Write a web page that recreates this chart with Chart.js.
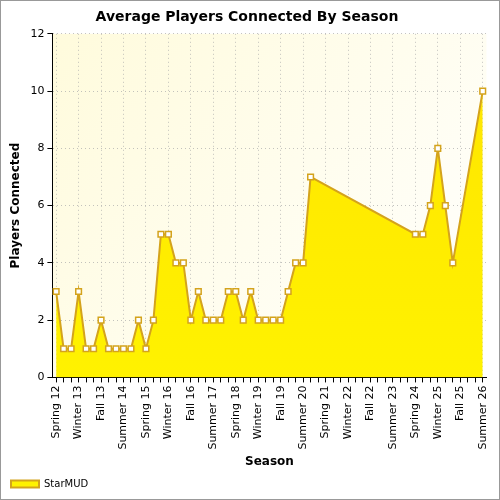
<!DOCTYPE html>
<html><head><meta charset="utf-8">
<script src="https://cdn.jsdelivr.net/npm/chart.js@4/dist/chart.umd.min.js"></script>
<style>body{margin:0;background:#fff}#w{width:498px;height:498px;border:1px solid #999}</style>
</head><body><div id="w"><canvas id="c"></canvas></div>
<script>
const categories = ["Spring 12","Summer 12","Fall 12","Winter 13","Spring 13","Summer 13","Fall 13","Winter 14","Spring 14","Summer 14","Fall 14","Winter 15","Spring 15","Summer 15","Fall 15","Winter 16","Spring 16","Summer 16","Fall 16","Winter 17","Spring 17","Summer 17","Fall 17","Winter 18","Spring 18","Summer 18","Fall 18","Winter 19","Spring 19","Summer 19","Fall 19","Winter 20","Spring 20","Summer 20","Fall 20","Winter 21","Spring 21","Summer 21","Fall 21","Winter 22","Spring 22","Summer 22","Fall 22","Winter 23","Spring 23","Summer 23","Fall 23","Winter 24","Spring 24","Summer 24","Fall 24","Winter 25","Spring 25","Summer 25","Fall 25","Winter 26","Spring 26","Summer 26"];
const players = [3,1,1,3,1,1,2,1,1,1,1,2,1,2,5,5,4,4,2,3,2,2,2,3,3,2,3,2,2,2,2,3,4,4,7,null,null,null,null,null,null,null,null,null,null,null,null,null,5,5,6,8,6,4,null,null,null,10];
const yTicks = [0,2,4,6,8,10,12];

const bgPlugin = {id:'bg', beforeDraw(ch){const a=ch.chartArea,c=ch.ctx;const g=c.createLinearGradient(a.left,a.top,a.right,a.bottom);g.addColorStop(0,'#fffbdc');g.addColorStop(1,'#ffffff');c.save();c.fillStyle=g;c.fillRect(a.left,a.top,a.right-a.left,a.bottom-a.top);c.restore();}};

new Chart(document.getElementById('c'),{
 type:'line',
 data:{labels:categories,datasets:[{label:'StarMUD',data:players,spanGaps:true,fill:'origin',
  backgroundColor:(ctx)=>{const a=ctx.chart.chartArea;if(!a)return '#ffee00';const g=ctx.chart.ctx.createLinearGradient(0,a.bottom,0,a.top);g.addColorStop(0,'#fff200');g.addColorStop(1,'#ffe400');return g;},
  borderColor:'#d4a31c',borderWidth:2,tension:0,
  segment:{borderColor:(s)=>(s.p1DataIndex-s.p0DataIndex>1)?'rgba(0,0,0,0)':undefined},
  pointStyle:'rect',pointRadius:4,pointBackgroundColor:'#fff',pointBorderColor:'#d4a31c',pointBorderWidth:1.5}]},
 options:{responsive:true,maintainAspectRatio:false,animation:false,
  layout:{padding:{left:4,right:10,top:2,bottom:0}},
  plugins:{title:{display:true,text:'Average Players Connected By Season',color:'#000',font:{family:'DejaVu Sans',size:14,weight:'bold'},padding:{top:6,bottom:8}},
   legend:{position:'bottom',align:'start',labels:{color:'#000',font:{family:'DejaVu Sans',size:10},boxWidth:28,boxHeight:7,padding:6}},tooltip:{enabled:false}},
  scales:{
   x:{offset:true,grid:{offset:false,color:(c)=>c.index%3===0?'rgba(170,170,170,0.7)':'rgba(0,0,0,0)',tickColor:'#000',tickLength:5},border:{color:'#000',dash:[1,3]},
    ticks:{autoSkip:false,maxRotation:90,minRotation:90,color:'#000',font:{family:'DejaVu Sans',size:11},callback:(v,i)=>i%3===0?categories[i]:''},
    title:{display:true,text:'Season',color:'#000',font:{family:'DejaVu Sans',size:12,weight:'bold'},padding:{top:2}}},
   y:{min:0,max:12,afterBuildTicks:(ax)=>{ax.ticks=yTicks.map(v=>({value:v}));},grid:{color:'rgba(170,170,170,0.7)',tickColor:'#000',tickLength:5},border:{color:'#000',dash:[1,3]},
    ticks:{color:'#000',font:{family:'DejaVu Sans',size:11}},
    title:{display:true,text:'Players Connected',color:'#000',font:{family:'DejaVu Sans',size:12,weight:'bold'}}}
  }},
 plugins:[bgPlugin]
});
</script></body></html>
